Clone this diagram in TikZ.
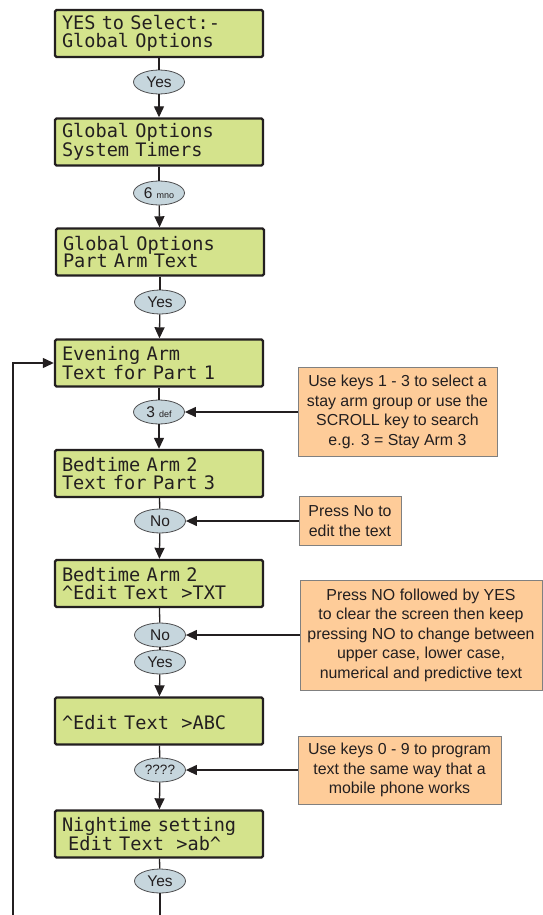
\documentclass[tikz,border=0pt]{standalone}
\usepackage{fontspec}
\setsansfont{Liberation Sans}
\newfontfamily\lcdfont{DejaVu Sans Mono}
\newcommand{\lcdtype}{\lcdfont\fontsize{18.6}{17.5}\selectfont}
\usetikzlibrary{arrows.meta,shapes.geometric}
\definecolor{lcd}{HTML}{D4E38C}
\definecolor{lcdedge}{HTML}{231F20}
\definecolor{key}{HTML}{C6D6DD}
\definecolor{keyedge}{HTML}{4D4D4F}
\definecolor{note}{HTML}{FECC99}
\definecolor{noteedge}{HTML}{808080}
\definecolor{ink}{HTML}{231F20}

\begin{document}
\begin{tikzpicture}[x=1pt,y=-1pt,
  lcdbox/.style={draw=lcdedge,fill=lcd,line width=2.4pt,rounded corners=1.5pt,align=left,text width=194pt,
    inner xsep=7pt,minimum width=208pt,minimum height=47pt,font=\lcdtype,text=ink},
  keyhit/.style={ellipse,draw=keyedge,fill=key,line width=0.8pt,minimum width=51pt,minimum height=24pt,inner sep=0pt,
    font=\sffamily\fontsize{15.5}{15.5}\selectfont,text=ink},
  notebox/.style={draw=noteedge,fill=note,line width=0.9pt,align=center,inner sep=2pt,
    font=\sffamily\fontsize{15.9}{19.5}\selectfont,text=ink},
  flow/.style={-{Triangle[length=11pt,width=10pt]},line width=1.3pt,ink},
  link/.style={line width=1.3pt,ink}]
  \useasboundingbox (0,0) rectangle (542,915);
  \newcommand{\sm}[1]{{\fontsize{9}{9}\selectfont #1}}

  % ===== display screens =====
  \node[lcdbox] (scr1) at (159,33.5) {YES to Select:-\\Global Options};
  \node[lcdbox] (scr2) at (159,142) {Global Options\\System Timers};
  \node[lcdbox] (scr3) at (160,252) {Global Options\\Part Arm Text};
  \node[lcdbox] (scr4) at (159,363) {Evening Arm\\Text for Part 1};
  \node[lcdbox] (scr5) at (159,473.5) {Bedtime Arm 2\\Text for Part 3};
  \node[lcdbox] (scr6) at (159,583.5) {Bedtime Arm 2\\\textasciicircum Edit Text\ \ >TXT};
  \node[lcdbox] (scr7) at (159,721) {\mbox{}\\\textasciicircum Edit Text\ \ >ABC};
  \node[lcdbox] (scr8) at (159,834) {Nightime setting\\\ Edit Text\ \ >ab\textasciicircum};

  % ===== key presses =====
  \node[keyhit] (k1) at (159,82) {Yes};
  \node[keyhit] (k2) at (159,193) {6 \sm{mno}};
  \node[keyhit] (k3) at (160,302) {Yes};
  \node[keyhit] (k4) at (159,412) {3 \sm{def}};
  \node[keyhit] (k5) at (160,521) {No};
  \node[keyhit] (k6) at (160,635) {No};
  \node[keyhit] (k7) at (160,662) {Yes};
  \node[keyhit,font=\sffamily\fontsize{13.5}{13.5}\selectfont] (k8) at (160,770) {????};
  \node[keyhit] (k9) at (160,881) {Yes};

  % ===== notes =====
  \node[notebox,minimum width=199pt,minimum height=89pt] (n1) at (397.5,412) {Use keys 1 - 3 to select a\\stay arm group or use the\\SCROLL key to search\\e.g. 3 = Stay Arm 3};
  \node[notebox,minimum width=102pt,minimum height=49pt] (n2) at (350,521) {Press No to\\edit the text};
  \node[notebox,minimum width=242pt,minimum height=110pt] (n3) at (421,635) {Press NO followed by YES\\to clear the screen then keep\\pressing NO to change between\\upper case, lower case,\\numerical and predictive text};
  \node[notebox,minimum width=203pt,minimum height=68pt] (n4) at (399.5,770) {Use keys 0 - 9 to program\\text the same way that a\\mobile phone works};

  % ===== flow =====
  \draw[link] (scr1) -- (k1);
  \draw[flow] (k1) -- (scr2);
  \draw[link] (scr2) -- (k2);
  \draw[flow] (k2) -- (scr3);
  \draw[link] (scr3) -- (k3);
  \draw[flow] (k3) -- (scr4);
  \draw[link] (scr4) -- (k4);
  \draw[flow] (k4) -- (scr5);
  \draw[link] (scr5) -- (k5);
  \draw[flow] (k5) -- (scr6);
  \draw[link] (scr6) -- (k6);
  \draw[link] (k6) -- (k7);
  \draw[flow] (k7) -- (scr7);
  \draw[link] (scr7) -- (k8);
  \draw[flow] (k8) -- (scr8);
  \draw[link] (scr8) -- (k9);
  \coordinate (bottom) at (160,915);
  \draw[link] (k9) -- (bottom);

  % ===== loop back =====
  \coordinate (loop) at (13,915);
  \draw[flow] (loop) |- (scr4.west);

  % ===== note pointers =====
  \draw[flow] (n1) -- (k4);
  \draw[flow] (n2) -- (k5);
  \draw[flow] (n3) -- (k6);
  \draw[flow] (n4) -- (k8);
\end{tikzpicture}
\end{document}
